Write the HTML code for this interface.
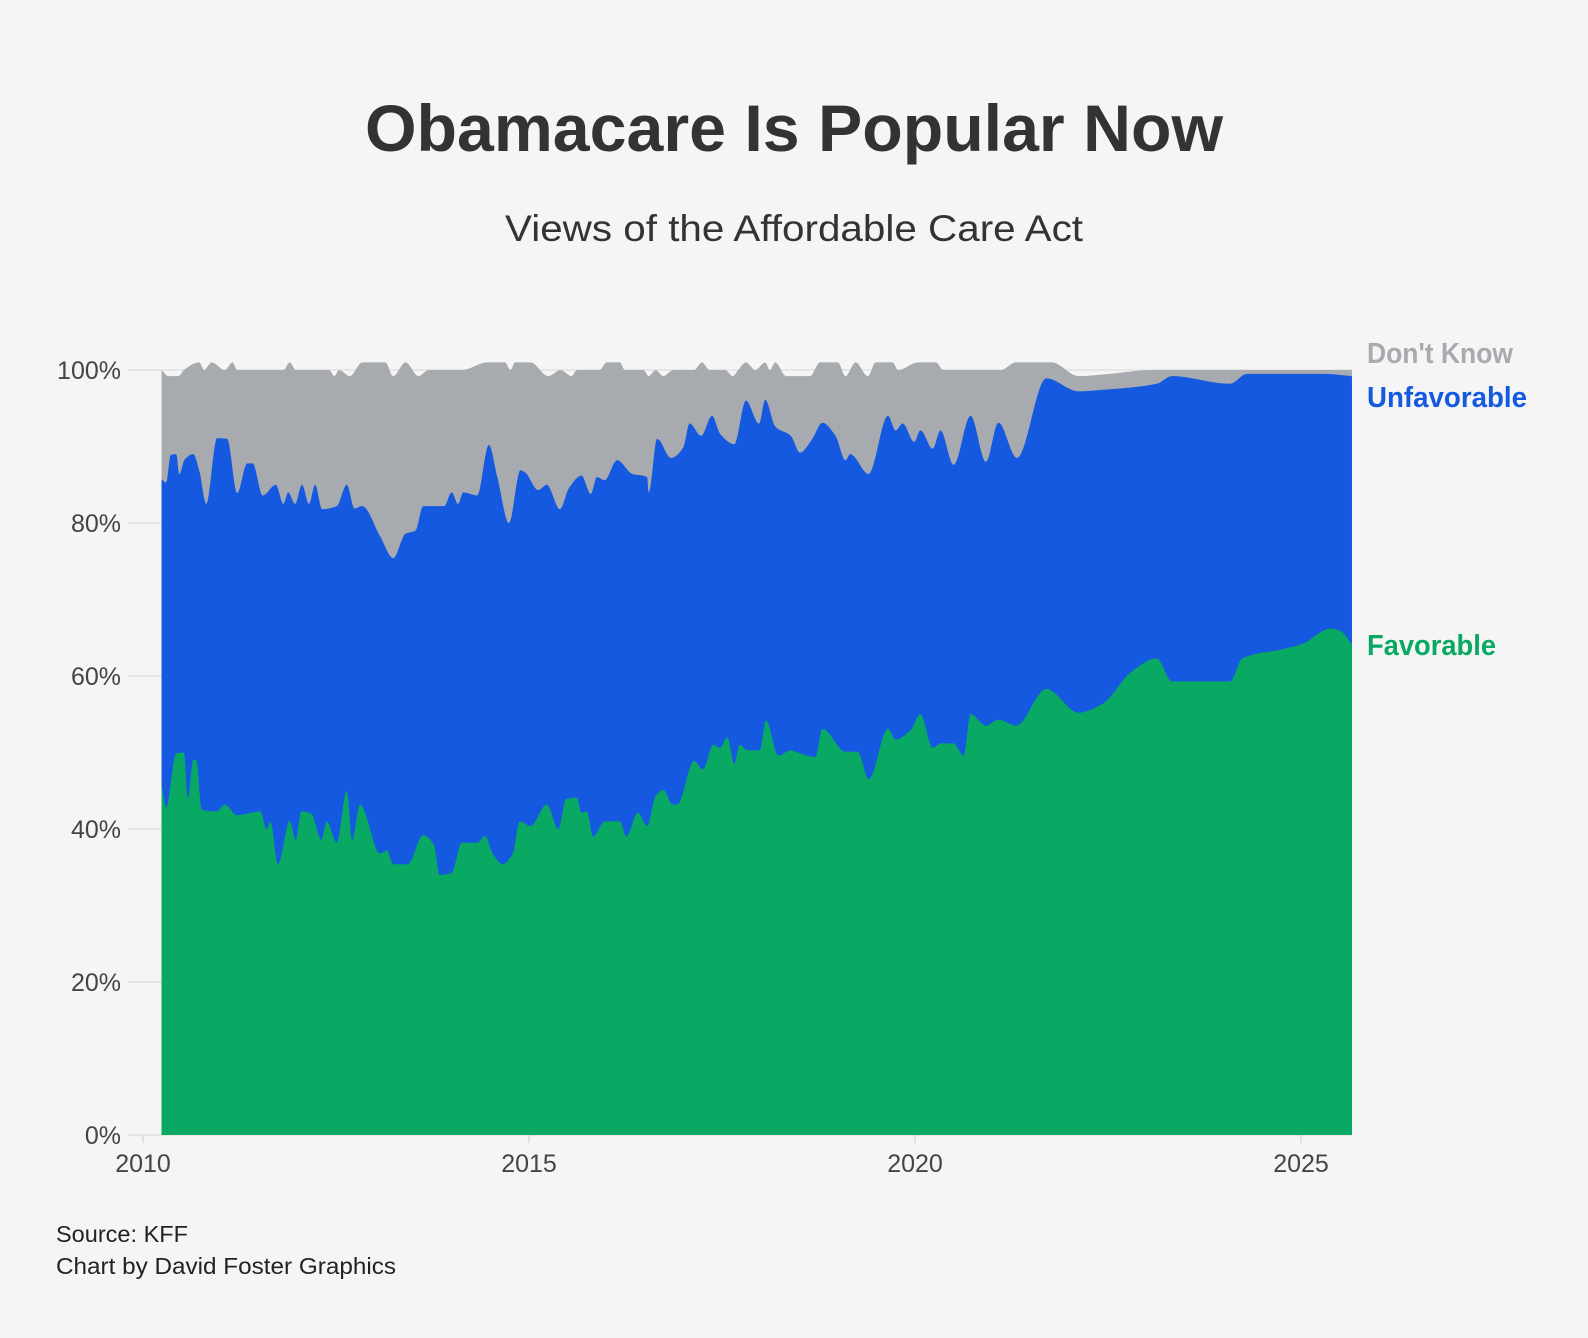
<!DOCTYPE html>
<html><head><meta charset="utf-8"><style>
html,body{margin:0;padding:0;background:#f5f5f5;}
svg{display:block;}
</style></head><body>
<svg id="chart" width="1588" height="1338" viewBox="0 0 1588 1338" xmlns="http://www.w3.org/2000/svg">
<rect width="1588" height="1338" fill="#f5f5f5"/>
<text x="794" y="151" text-anchor="middle" font-family="Liberation Sans, sans-serif" font-weight="bold" font-size="66" fill="#333" textLength="858" lengthAdjust="spacingAndGlyphs">Obamacare Is Popular Now</text>
<text x="794" y="241" text-anchor="middle" font-family="Liberation Sans, sans-serif" font-size="37" fill="#333" textLength="578" lengthAdjust="spacingAndGlyphs">Views of the Affordable Care Act</text>
<g id="grid"></g>
<g id="areas"></g>
<g id="yaxis"></g>
<g id="xaxis"></g>
<text x="1367" y="363" font-family="Liberation Sans, sans-serif" font-weight="bold" font-size="29" fill="#a7aaae" textLength="146" lengthAdjust="spacingAndGlyphs">Don't Know</text>
<text x="1367" y="407" font-family="Liberation Sans, sans-serif" font-weight="bold" font-size="29" fill="#1459e0" textLength="160" lengthAdjust="spacingAndGlyphs">Unfavorable</text>
<text x="1367" y="655" font-family="Liberation Sans, sans-serif" font-weight="bold" font-size="29" fill="#0aa963" textLength="129" lengthAdjust="spacingAndGlyphs">Favorable</text>
<text x="56" y="1242" font-family="Liberation Sans, sans-serif" font-size="23" fill="#222" textLength="132" lengthAdjust="spacingAndGlyphs">Source: KFF</text>
<text x="56" y="1274" font-family="Liberation Sans, sans-serif" font-size="23" fill="#222" textLength="340" lengthAdjust="spacingAndGlyphs">Chart by David Foster Graphics</text>
</svg>
<script>
// Cumulative boundaries (percent)
const favDates=[2010.24,2010.30,2010.43,2010.53,2010.58,2010.65,2010.69,2010.76,2010.96,2011.06,2011.22,2011.52,2011.60,2011.65,2011.75,2011.90,2011.98,2012.05,2012.18,2012.31,2012.38,2012.51,2012.64,2012.71,2012.81,2013.07,2013.16,2013.24,2013.43,2013.63,2013.77,2013.84,2014.00,2014.13,2014.33,2014.43,2014.53,2014.66,2014.79,2014.88,2015.02,2015.23,2015.38,2015.48,2015.62,2015.68,2015.75,2015.83,2015.98,2016.18,2016.26,2016.41,2016.53,2016.64,2016.74,2016.86,2016.92,2017.14,2017.25,2017.39,2017.47,2017.57,2017.66,2017.73,2017.83,2017.99,2018.07,2018.23,2018.39,2018.51,2018.71,2018.80,2019.10,2019.26,2019.40,2019.65,2019.75,2019.94,2020.07,2020.23,2020.33,2020.50,2020.63,2020.72,2020.92,2021.08,2021.31,2021.70,2022.12,2022.42,2022.81,2023.13,2023.33,2024.08,2024.24,2024.76,2025.02,2025.38,2025.51,2025.66];
const favVals=[45.8,42.8,49.9,50,44,49,49,42.5,42.3,43.2,41.8,42.3,40,41,35.4,41,38.6,42.3,42,38.6,41,38.2,45,38.6,43.2,36.8,37.2,35.4,35.4,39.2,37.9,34,34.3,38.2,38.2,39.1,36.8,35.4,36.8,41,40.4,43.2,40,43.9,44.1,42.1,42.3,39,41,41,39,42.1,40.4,44.3,45.1,43.2,43.2,48.9,47.8,51,50.6,52,48.5,51,50.3,50.3,54.2,49.6,50.3,49.9,49.4,53.1,50.1,50.1,46.5,53.1,51.7,52.9,55,50.6,51.2,51.2,49.6,55,53.5,54.3,53.5,58.3,55.2,56.3,60.6,62.3,59.3,59.3,62.3,63.5,64.2,66.2,65.9,64.1];
const unfDates=[2010.24,2010.30,2010.36,2010.43,2010.47,2010.54,2010.65,2010.73,2010.82,2010.96,2011.09,2011.22,2011.35,2011.42,2011.55,2011.72,2011.82,2011.88,2011.97,2012.06,2012.15,2012.23,2012.32,2012.51,2012.64,2012.74,2012.84,2013.07,2013.24,2013.40,2013.53,2013.63,2013.90,2014.00,2014.08,2014.15,2014.33,2014.48,2014.59,2014.74,2014.89,2014.95,2015.12,2015.23,2015.40,2015.52,2015.68,2015.80,2015.88,2015.98,2016.14,2016.34,2016.53,2016.55,2016.66,2016.84,2017.00,2017.08,2017.23,2017.37,2017.48,2017.66,2017.81,2017.98,2018.06,2018.19,2018.39,2018.51,2018.67,2018.80,2018.97,2019.10,2019.16,2019.40,2019.65,2019.75,2019.84,2019.99,2020.07,2020.23,2020.33,2020.50,2020.72,2020.92,2021.08,2021.32,2021.70,2022.12,2022.42,2023.13,2023.33,2024.08,2024.30,2025.31,2025.66];
const unfVals=[85.7,85.3,88.9,89,86.4,88.3,89,86.8,82.5,91.1,91,83.9,87.8,87.8,83.6,85,82.5,84,82.5,85,82.5,85,81.8,82.2,85,81.9,82.2,78.3,75.4,78.6,79,82.2,82.2,84,82.5,84,83.6,90.2,86,80,86.9,86.6,84.3,85,81.8,84.6,86.2,83.8,86,85.6,88.2,86.4,86,84,91,88.5,89.9,93,91.4,94,91.6,90.3,96,93,96.1,92.6,91.4,89.2,91,93.1,91.4,88.2,89,86.4,94,92.1,93,90.6,92.1,89.7,92.1,87.6,94,88,93.1,88.5,98.9,97.2,97.4,98.2,99.2,98.2,99.5,99.5,99.2];
const dkDates=[2010.24,2010.33,2010.46,2010.53,2010.73,2010.79,2010.89,2011.06,2011.16,2011.22,2011.82,2011.90,2011.98,2012.41,2012.48,2012.54,2012.68,2012.84,2013.14,2013.24,2013.40,2013.57,2013.70,2014.13,2014.46,2014.69,2014.76,2014.82,2015.02,2015.25,2015.41,2015.55,2015.62,2015.91,2016.01,2016.18,2016.24,2016.48,2016.55,2016.64,2016.74,2016.87,2017.14,2017.24,2017.34,2017.54,2017.64,2017.71,2017.81,2017.93,2018.06,2018.12,2018.19,2018.33,2018.64,2018.77,2019.00,2019.10,2019.23,2019.39,2019.49,2019.71,2019.78,2020.04,2020.27,2020.37,2021.11,2021.31,2021.77,2022.12,2022.42,2023.07,2025.66];
const dkVals=[100,99.2,99.2,100,101,100,101,100,101,100,100,101,100,100,99.2,100,99.2,101,101,99.2,101,99.2,100,100,101,101,100,101,101,99.2,100,99.2,100,100,101,101,100,100,99.2,100,99.2,100,100,101,100,100,99.2,100,101,100,101,100,101,99.2,99.2,101,101,99.2,101,99.2,101,101,100,101,101,100,100,101,101,99.2,99.4,100,100];
const yTicks=[0,20,40,60,80,100];
const xTicks=[2010,2015,2020,2025];

const X0=143, PXY=77.2, Y0=1135, Y100=370;
const xs=yr=>X0+(yr-2010)*PXY;
const ys=v=>Y0-(v/100)*(Y0-Y100);
const NS='http://www.w3.org/2000/svg';

function monotonePath(px,py){
  const n=px.length, d=[], m=[];
  for(let i=0;i<n-1;i++) d.push((py[i+1]-py[i])/(px[i+1]-px[i]));
  m[0]=d[0]; m[n-1]=d[n-2];
  for(let i=1;i<n-1;i++){
    if(d[i-1]*d[i]<=0) m[i]=0;
    else { const h0=px[i]-px[i-1],h1=px[i+1]-px[i];
      m[i]=3*(h0+h1)/((2*h1+h0)/d[i-1]+(h1+2*h0)/d[i]); }
  }
  let s='M'+px[0]+','+py[0];
  for(let i=0;i<n-1;i++){
    const h=(px[i+1]-px[i])/3;
    s+='C'+(px[i]+h)+','+(py[i]+m[i]*h)+' '+(px[i+1]-h)+','+(py[i+1]-m[i+1]*h)+' '+px[i+1]+','+py[i+1];
  }
  return s;
}
function areaPath(dates,vals){
  const px=dates.map(xs), py=vals.map(ys);
  return monotonePath(px,py)+'L'+px[px.length-1]+','+Y0+'L'+px[0]+','+Y0+'Z';
}
const grid=document.getElementById('grid');
yTicks.forEach(t=>{
  const l=document.createElementNS(NS,'line');
  
  
  l.setAttribute('x1',128);l.setAttribute('x2',1352);
  l.setAttribute('y1',ys(t));l.setAttribute('y2',ys(t));
  l.setAttribute('stroke','#e6e6e6');l.setAttribute('stroke-width',2);
  grid.appendChild(l);
});
const areas=document.getElementById('areas');
[[dkDates,dkVals,'#a7aaae','area-dont-know'],[unfDates,unfVals,'#1459e0','area-unfavorable'],[favDates,favVals,'#0aa963','area-favorable']].forEach(s=>{
  const p=document.createElementNS(NS,'path');
  
  
  p.setAttribute('d',areaPath(s[0],s[1]));
  p.setAttribute('fill',s[2]);
  areas.appendChild(p);
});
const ya=document.getElementById('yaxis');
yTicks.forEach(t=>{
  const tx=document.createElementNS(NS,'text');
  
  
  tx.setAttribute('x',121);tx.setAttribute('y',ys(t)+9);
  tx.setAttribute('text-anchor','end');
  tx.setAttribute('font-family','Liberation Sans, sans-serif');
  tx.setAttribute('font-size','25');tx.setAttribute('fill','#444');
  tx.textContent=t+'%';
  ya.appendChild(tx);
});
const xa=document.getElementById('xaxis');
xTicks.forEach(t=>{
  const l=document.createElementNS(NS,'line');
  
  
  l.setAttribute('x1',xs(t));l.setAttribute('x2',xs(t));
  l.setAttribute('y1',Y0);l.setAttribute('y2',Y0+8);
  l.setAttribute('stroke','#e0e0e0');l.setAttribute('stroke-width',2);
  xa.appendChild(l);
  const tx=document.createElementNS(NS,'text');
  
  
  tx.setAttribute('x',xs(t));tx.setAttribute('y',Y0+37);
  tx.setAttribute('text-anchor','middle');
  tx.setAttribute('font-family','Liberation Sans, sans-serif');
  tx.setAttribute('font-size','25');tx.setAttribute('fill','#444');
  tx.textContent=t;
  xa.appendChild(tx);
});
</script>
</body></html>
